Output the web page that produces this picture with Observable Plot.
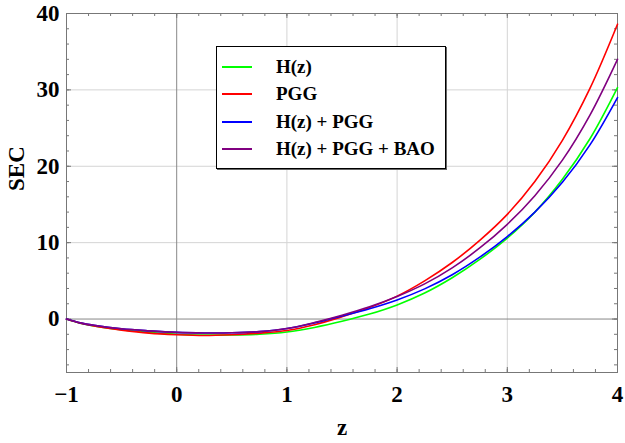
<!DOCTYPE html>
<html><head><meta charset="utf-8">
<script src="https://cdn.jsdelivr.net/npm/d3@7"></script>
<script src="https://cdn.jsdelivr.net/npm/@observablehq/plot@0.6"></script>
<style>
body{margin:0;background:#fff;}
#wrap{position:relative;width:625px;height:443px;}
#legend{position:absolute;left:216px;top:46px;width:228px;height:121px;border:1.6px solid #000;background:#fff;font-family:"Liberation Serif",serif;font-weight:bold;font-size:19px;box-shadow:1px 1px 0 #666;}
.row{position:absolute;left:0;width:100%;height:0;}
.sw{position:absolute;left:5px;top:-1px;width:30px;height:2px;}
.lab{position:absolute;left:59px;top:-11px;line-height:22px;white-space:nowrap;}
</style>
</head><body>
<div id="wrap"></div>
<script>
// data
const z = [-1,-0.875,-0.75,-0.5,-0.25,0,0.25,0.5,0.75,1,1.25,1.5,1.75,2,2.25,2.5,2.75,3,3.25,3.5,3.75,4];
const secHz     = [0,-0.55,-0.9,-1.4,-1.75,-2.0,-2.1,-2.1,-2.0,-1.7,-1.1,-0.3,0.65,1.85,3.4,5.4,7.8,10.6,14.0,18.3,23.6,30.3];
const secPGG    = [0,-0.55,-0.92,-1.45,-1.85,-2.05,-2.15,-2.05,-1.85,-1.5,-0.75,0.3,1.5,3.0,5.0,7.4,10.3,13.7,18.0,23.4,30.2,38.6];
const secHzPGG  = [0,-0.5,-0.82,-1.28,-1.55,-1.75,-1.82,-1.8,-1.65,-1.25,-0.5,0.4,1.35,2.5,3.95,5.8,8.1,10.8,14.0,17.9,22.8,29.0];
const secAll    = [0,-0.5,-0.82,-1.28,-1.55,-1.75,-1.82,-1.8,-1.65,-1.25,-0.45,0.5,1.6,2.95,4.6,6.7,9.3,12.4,16.15,20.8,26.7,34.0];
const seriesNames = ["H(z)","PGG","H(z) + PGG","H(z) + PGG + BAO"];
const seriesVals = [secHz, secPGG, secHzPGG, secAll];
const seriesColors = ["#00ff00","#ff0000","#0000ff","#800080"];
const xTicks = [-1,0,1,2,3,4];
const yTicks = [0,10,20,30,40];
const xGrid = [1,2,3];
const yGrid = [10,20,30];

const rows = seriesNames.flatMap((s,i)=> z.map((zz,j)=>({series:s, z:zz, v:seriesVals[i][j]})));

const W=625,H=443,ML=66,MR=8,MT=13,MB=71;
const PW=W-ML-MR, PH=H-MT-MB;
const xMinor = d3.range(-1, 4.0001, 0.2).map(d=>+d.toFixed(2));
const yMinor = d3.range(-6, 40.001, 2);

const plot = Plot.plot({
  width:W, height:H, marginLeft:ML, marginRight:MR, marginTop:MT, marginBottom:MB,
  x:{domain:[-1,4]}, y:{domain:[-7,40]},
  color:{domain:seriesNames, range:seriesColors},
  style:{fontFamily:"'Liberation Serif', serif", fontSize:"23px", fontWeight:"bold", background:"#fff"},
  marks:[
    Plot.gridX(xGrid,{stroke:"#d4d4d4", strokeOpacity:1}),
    Plot.gridY(yGrid,{stroke:"#d4d4d4", strokeOpacity:1}),
    Plot.ruleX([0],{stroke:"#888"}),
    Plot.ruleY([0],{stroke:"#888"}),
    Plot.tickX(xMinor,{x:d=>d, insetTop:PH-3, stroke:"#777"}),
    Plot.tickX(xMinor,{x:d=>d, insetBottom:PH-3, stroke:"#777"}),
    Plot.tickX(xTicks,{x:d=>d, insetTop:PH-5, stroke:"#777"}),
    Plot.tickX(xTicks,{x:d=>d, insetBottom:PH-5, stroke:"#777"}),
    Plot.tickY(yMinor,{y:d=>d, insetRight:PW-3, stroke:"#777"}),
    Plot.tickY(yMinor,{y:d=>d, insetLeft:PW-3, stroke:"#777"}),
    Plot.tickY(yTicks,{y:d=>d, insetRight:PW-5, stroke:"#777"}),
    Plot.tickY(yTicks,{y:d=>d, insetLeft:PW-5, stroke:"#777"}),
    Plot.frame({stroke:"#777"}),
    Plot.axisX(xTicks,{tickSize:0, tickPadding:13, label:null, fill:"#000", fontSize:23}),
    Plot.axisY(yTicks,{tickSize:0, tickPadding:7, label:null, fill:"#000", fontSize:23}),
    Plot.line(rows,{x:"z", y:"v", z:"series", stroke:"series", strokeWidth:1.6, curve:"catmull-rom"}),
    Plot.text(["z"],{text:d=>d, frameAnchor:"bottom", dy:62, fontSize:23}),
    Plot.text(["SEC"],{text:d=>d, frameAnchor:"left", dx:-50, dy:-2, rotate:-90, fontSize:23})
  ]
});
const wrap = document.getElementById("wrap");
wrap.appendChild(plot);

const leg = document.createElement("div");
leg.id="legend";
const centers=[20,47,74.5,102];
seriesNames.forEach((s,i)=>{
  const r=document.createElement("div"); r.className="row"; r.style.top=centers[i]+"px";
  const sw=document.createElement("div"); sw.className="sw"; sw.style.background=seriesColors[i];
  const lb=document.createElement("div"); lb.className="lab"; lb.textContent=s;
  r.appendChild(sw); r.appendChild(lb); leg.appendChild(r);
});
wrap.appendChild(leg);
</script>
</body></html>
